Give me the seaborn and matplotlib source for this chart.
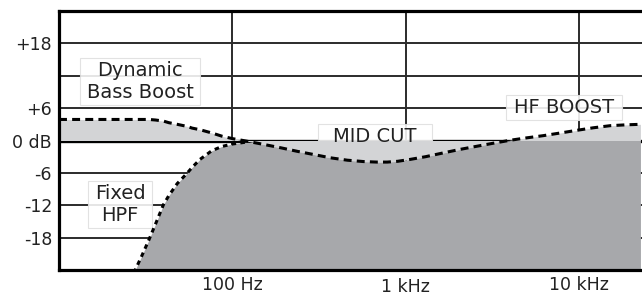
import numpy as np
import pandas as pd
import matplotlib.pyplot as plt
import matplotlib.transforms as mtransforms
from matplotlib.patches import Rectangle
import seaborn as sns

# frequency grid (Hz) shared by both curves
freq = [10, 20, 27.5, 30, 33, 36, 40, 43, 48, 55, 58.5, 65, 76, 87, 100, 120,
        150, 190, 236, 300, 366, 460, 568, 680, 781, 900, 1060, 1300, 1643,
        2050, 2582, 3200, 4003, 5000, 6207, 7800, 9750, 12000, 15110, 18500, 22530]

# dynamic EQ curve (dB): bass boost, mid cut, HF boost
eq_db = [3.9, 3.9, 3.9, 3.9, 3.9, 3.8, 3.6, 3.3, 3.0, 2.6, 2.3, 2.0, 1.4, 0.8, 0.35, -0.1,
         -0.7, -1.35, -2.0, -2.65, -3.2, -3.65, -3.9, -4.0, -4.0, -3.85, -3.5, -3.0, -2.3,
         -1.65, -1.05, -0.5, 0.05, 0.5, 0.9, 1.4, 1.9, 2.35, 2.75, 2.9, 3.0]

# fixed high-pass filter (dB)
hpf_db = [-40, -32, -24, -21.4, -18.4, -15.5, -11.9, -10.2, -8.0, -6.0, -5.0, -3.5, -1.9, -1.1, -0.65, -0.3,
          -0.1, 0, 0, 0, 0, 0, 0, 0, 0, 0, 0, 0, 0,
          0, 0, 0, 0, 0, 0, 0, 0, 0, 0, 0, 0]

x_ticks = [100, 1000, 10000]
x_labels = ["100 Hz", "1 kHz", "10 kHz"]
y_ticks = [-18, -12, -6, 0, 6, 12, 18]
y_labels = ["-18", "-12", "-6", "0 dB", "+6", "", "+18"]

# annotation boxes: text, freq, dB, horizontal box padding (px)
notes = [("Dynamic\nBass Boost", 29.3, 10.9, 7),
         ("Fixed\nHPF", 22.5, -11.8, 7),
         ("MID CUT", 666, 0.75, 15),
         ("HF BOOST", 8200, 6.1, 8)]

df = pd.DataFrame({"freq": freq, "eq": eq_db, "hpf": hpf_db})
df["dark_top"] = np.minimum(df["hpf"], np.minimum(df["eq"], 0))

sns.set_theme(style="white")
plt.rcParams["font.family"] = ["DejaVu Sans"]

LINE = "#2b2b2b"
TXT = "#222222"

fig = plt.figure(figsize=(6.42, 2.95), dpi=100)
ax = fig.add_axes([59 / 642, 25 / 295, 583 / 642, 259 / 295])

ax.fill_between(df["freq"], 0, df["eq"], color="#d3d4d6", lw=0, zorder=2)
ax.fill_between(df["freq"], -40, df["dark_top"], color="#a7a8ab", lw=0, zorder=2.1)

sns.lineplot(data=df, x="freq", y="eq", ax=ax, color="black", lw=2.2,
             linestyle=(0, (2.6, 1.7)), zorder=3)
sns.lineplot(data=df[df["freq"] <= 120], x="freq", y="hpf", ax=ax, color="black",
             lw=2.2, linestyle=(0, (1.5, 1.4)), zorder=3)

ax.set_xscale("log")
ax.set_xlim(10, 23000)
ax.set_ylim(-24, 24)

ax.set_xticks(x_ticks)
ax.set_xticklabels(x_labels)
ax.minorticks_off()
ax.set_yticks(y_ticks)
ax.set_yticklabels(y_labels)
ax.tick_params(axis="both", length=0, labelsize=12.5, labelcolor=TXT)
ax.tick_params(axis="x", pad=4)
ax.tick_params(axis="y", pad=5)
ax.set_xlabel("")
ax.set_ylabel("")

# "1 kHz" sits a little lower in the original
lbl = ax.get_xticklabels()[1]
lbl.set_transform(lbl.get_transform() + mtransforms.ScaledTranslation(0, -0.02, fig.dpi_scale_trans))

ax.grid(True, color=LINE, lw=1.4)
ax.set_axisbelow(True)
ax.axhline(0, color="black", lw=2.4, zorder=1.2)

for side in ["left", "top", "bottom"]:
    ax.spines[side].set_color("black")
    ax.spines[side].set_linewidth(2.3)
    ax.spines[side].set_zorder(4)
ax.spines["right"].set_visible(False)

texts = []
for txt, fx, fy, padx in notes:
    t = ax.text(fx, fy, txt, ha="center", va="center", fontsize=14, color=TXT,
                linespacing=1.2, zorder=5)
    texts.append((t, padx))

# boxes go under the fills, sized from the rendered text
fig.canvas.draw()
renderer = fig.canvas.get_renderer()
for t, padx in texts:
    bb = t.get_window_extent(renderer)
    ax.add_patch(Rectangle((bb.x0 - padx, bb.y0 - 3), bb.width + 2 * padx, bb.height + 6,
                           transform=None, fc="white", ec="#dedede", lw=0.8, alpha=0.88,
                           zorder=1.5))

fig.savefig("out.png", dpi=100)
